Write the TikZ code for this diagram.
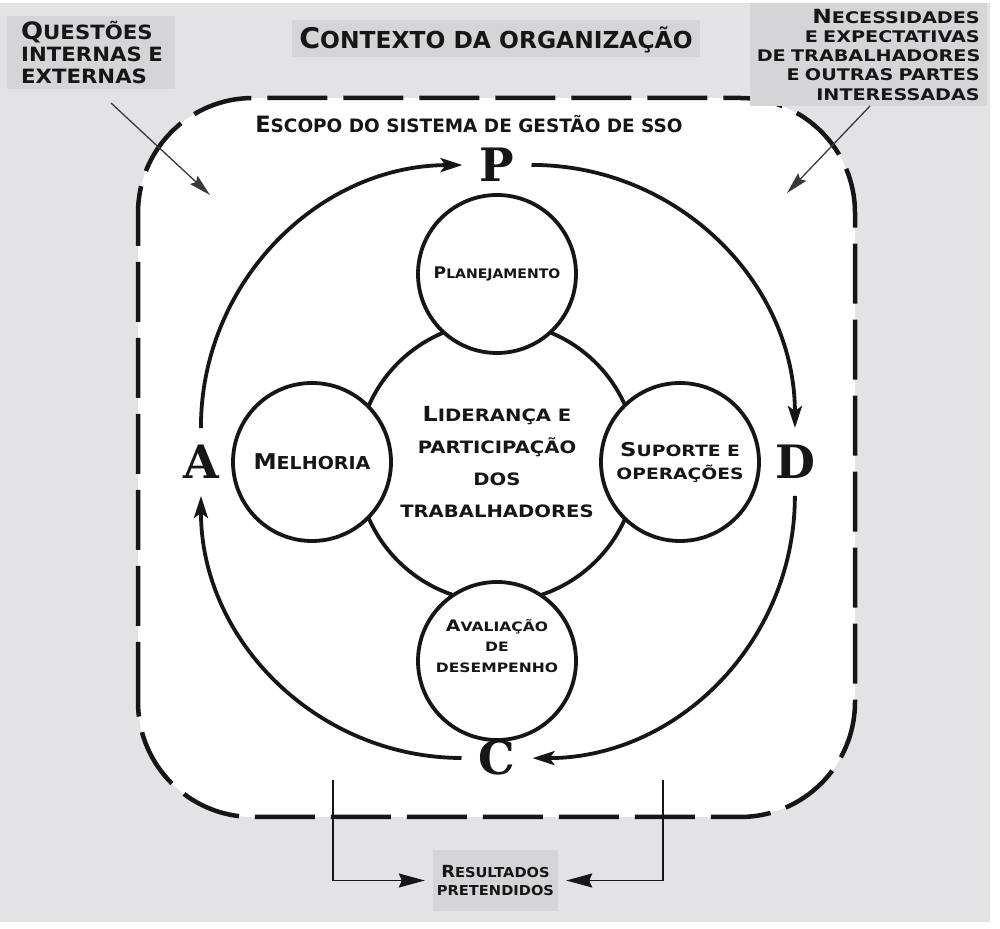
\documentclass[tikz,border=0pt]{standalone}
\usepackage{fontspec}
\usepackage{graphicx}
\usetikzlibrary{positioning,arrows.meta}
\newfontfamily\cop{DejaVu Sans}[UprightFont=* Bold]
\newfontfamily\letr{DejaVu Serif}[UprightFont=* Bold]
\newcommand\low[1]{\scalebox{.82}{#1}}
\definecolor{bg}{RGB}{227,227,229}
\definecolor{boxgray}{RGB}{213,213,215}
\definecolor{ink}{RGB}{22,22,22}

\begin{document}
\begin{tikzpicture}[x=1pt,y=1pt,node distance=186pt,on grid,
  cop/.style n args={3}{font={\cop\addfontfeatures{FakeStretch=#3}\fontsize{#1}{#2}\selectfont},text=ink},
  circ/.style={circle,draw=ink,line width=3.8pt,fill=white,minimum size=158pt,inner sep=0pt,align=center},
  letter/.style={font={\letr\fontsize{46}{46}\selectfont},text=ink,inner sep=17pt},
  cyc/.style={draw=ink,line width=3.8pt,-{Stealth[length=22pt,width=14pt,inset=5pt]}},
  graybox/.style={fill=boxgray,inner sep=0pt},
  feed/.style={draw=ink!85,line width=1.3pt,-{Stealth[length=22pt,width=11pt,inset=3pt]}},
  outarr/.style={draw=ink,line width=1.5pt,shorten >=8pt,-{Stealth[length=26pt,width=14pt,inset=3pt]}}]
  \useasboundingbox (0,0) rectangle (1000,928);
  \fill[bg] (0,6) rectangle (990,925);
  \draw[fill=white,draw=ink,line width=4.5pt,dash pattern=on 60pt off 16pt,rounded corners=115pt] (138,111) rectangle (855,830);

  \node[graybox,cop={28.5}{30}{1},minimum width=408pt,minimum height=37pt,text height=20.8pt,text depth=0pt] (ctx) at (496,889.5) {C\low{ONTEXTO DA ORGANIZAÇÃO}};
  \node[graybox,cop={24}{22}{1.08},anchor=north west,text width=140pt,minimum height=73pt,inner xsep=14pt,align=left] (q_box) at (7,912) {Q\low{UESTÕES}\\\low{INTERNAS E}\\\low{EXTERNAS}};
  \node[graybox,cop={19.5}{19.3}{1.2},anchor=north east,text width=223pt,minimum height=103pt,inner xsep=7pt,align=right] (n_box) at (987,925) {N\low{ECESSIDADES}\\\low{E EXPECTATIVAS}\\\low{DE TRABALHADORES}\\\low{E OUTRAS PARTES}\\\low{INTERESSADAS}};
  \node[cop={22.5}{26}{1},anchor=base] (scope) at (469,795) {E\low{SCOPO DO SISTEMA DE GESTÃO DE SSO}};

  \node[circle,draw=ink,line width=3.8pt,minimum size=280pt,inner sep=0pt,align=center,cop={20.8}{31.7}{1.15}] (c_0) at (497,466) {L\low{IDERANÇA E}\\\low{PARTICIPAÇÃO}\\\low{DOS}\\\low{TRABALHADORES}};
  \node[circ,cop={16}{19}{1.07}] (c_1) [above=188pt of c_0] {P\low{LANEJAMENTO}};
  \node[circ,cop={21.7}{24}{1.07}] (c_2) [left=185pt of c_0] {M\low{ELHORIA}};
  \node[circ,cop={19}{23}{1.2}] (c_3) [right=183pt of c_0] {S\low{UPORTE E}\\\low{OPERAÇÕES}};
  \node[circ] (c_4) [below=199pt of c_0] {};
  \node[cop={15.8}{20.5}{1.2},align=center] (aval) at ([yshift=15pt]c_4.center) {A\low{VALIAÇÃO}\\\low{DE}\\\low{DESEMPENHO}};

  \node[letter] (l_p) [above=297pt of c_0] {P};
  \node[letter] (l_a) [left=296pt of c_0] {A};
  \node[letter] (l_d) [right=298pt of c_0] {D};
  \node[letter] (l_c) [below=296pt of c_0] {C};
  \path[cyc] (l_a) edge[bend left=45] (l_p)
    (l_p) edge[bend left=45] (l_d)
    (l_d) edge[bend left=45] (l_c)
    (l_c) edge[bend left=45] (l_a);

  \node[graybox,cop={16.7}{18}{1.07},minimum width=125pt,minimum height=61pt,align=center] (res) at (495.5,47.5) {R\low{ESULTADOS}\\\low{PRETENDIDOS}};

  \coordinate (q_s) at (111,825);
  \coordinate (q_e) at (210,733);
  \coordinate (n_s) at (870,822);
  \coordinate (n_e) at (787,735);
  \coordinate (r_l) at (333,148);
  \coordinate (r_r) at (663,148);
  \draw[feed] (q_s) -- (q_e);
  \draw[feed] (n_s) -- (n_e);
  \draw[outarr] (r_l) |- (res);
  \draw[outarr] (r_r) |- (res);
\end{tikzpicture}
\end{document}
